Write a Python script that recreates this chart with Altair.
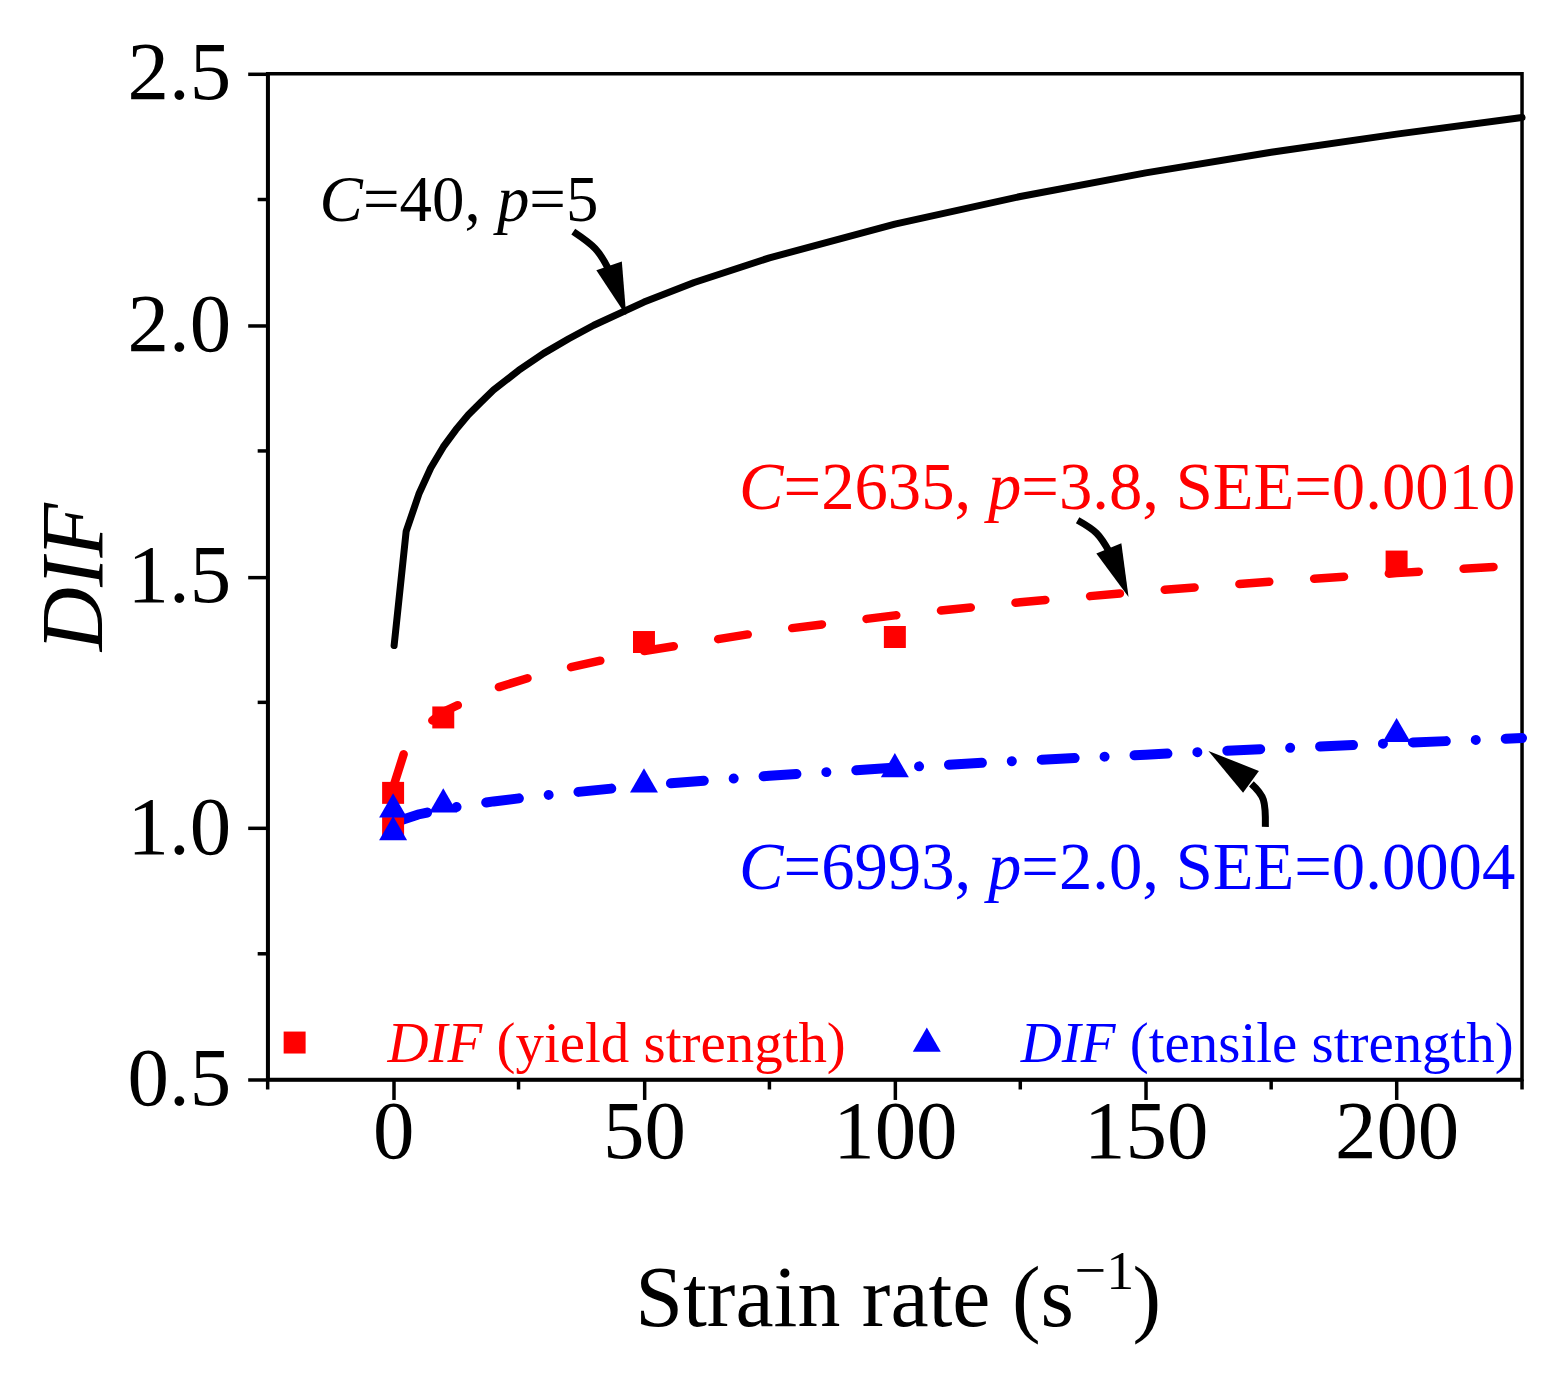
import altair as alt
import pandas as pd

# ---------------- data ----------------
# measured DIF points
yield_rate = [0, 0, 10, 50, 100, 200]
yield_dif = [1.00, 1.07, 1.22, 1.37, 1.38, 1.53]
tensile_rate = [0, 0, 10, 50, 100, 200]
tensile_dif = [1.00, 1.045, 1.055, 1.095, 1.125, 1.195]

# reference curve C=40, p=5 (black solid)
ref_rate = [0.2, 2.6, 5.2, 7.5, 10, 12.5, 15, 17.5, 20, 25, 30, 35, 40, 50, 60, 75, 100, 125, 150, 175, 200, 225]
ref_dif = [1.363, 1.59, 1.666, 1.716, 1.758, 1.792, 1.822, 1.847, 1.871, 1.910, 1.944, 1.973, 2.000, 2.046,
           2.085, 2.134, 2.201, 2.256, 2.303, 2.344, 2.380, 2.413]

# fitted yield curve (red dashed)
yfit_rate = [0.3, 2.2, 5, 10, 20, 30, 50, 75, 100, 125, 150, 175, 200, 225]
yfit_dif = [1.090, 1.150, 1.192, 1.231, 1.277, 1.308, 1.352, 1.392, 1.423, 1.449, 1.471, 1.490, 1.507, 1.523]

# fitted tensile curve (blue dash-dot)
tfit_rate = [0.5, 5, 10, 20, 30, 50, 75, 100, 125, 150, 175, 200, 225]
tfit_dif = [1.012, 1.027, 1.038, 1.053, 1.065, 1.085, 1.104, 1.120, 1.134, 1.146, 1.158, 1.169, 1.179]

x_major = [0, 50, 100, 150, 200]
x_minor = [-25, 25, 75, 125, 175, 225]
y_major = [0.5, 1.0, 1.5, 2.0, 2.5]
y_minor = [0.75, 1.25, 1.75, 2.25]

# ---------------- geometry ----------------
X0, X1 = -25, 225
Y0, Y1 = 0.5, 2.5
W, H = 1256, 1007
PL, PT = 260, 65          # padding -> plot origin at page (268, 73)
OX, OY = PL + 8, PT + 8
FONT = "Liberation Serif"


def to_x(px):
    return X0 + (px - OX) / W * (X1 - X0)


def to_y(py):
    return Y1 - (py - OY) / H * (Y1 - Y0)


REG = {' ': 250, '(': 333, ')': 333, ',': 250, '.': 250, '=': 564, '\u2212': 564, 'S': 556, 'E': 611,
       'a': 444, 'd': 500, 'e': 444, 'g': 500, 'h': 500, 'i': 278, 'l': 278, 'n': 500, 'r': 333,
       's': 389, 't': 278, 'y': 500}
for _d in '0123456789':
    REG[_d] = 500
ITA = {'C': 667, 'D': 722, 'I': 333, 'F': 611, 'p': 500}


def layout(parts, x_px, base_px, size, color):
    rows = []
    for txt, it in parts:
        lead = len(txt) - len(txt.lstrip(' '))
        x_px += lead * REG[' '] * size / 1000.0
        body = txt.lstrip(' ')
        rows.append({'x': to_x(x_px), 'y': to_y(base_px), 'txt': body, 'it': it, 'c': color, 'fs': size})
        x_px += sum((ITA if it else REG)[ch] for ch in body) * size / 1000.0
    return rows


RED = "#FF0000"
BLUE = "#0000FF"

rows = []
rows += layout([("C", 1), ("=40,", 0), (" p", 1), ("=5", 0)], 320, 220, 65, "black")
rows += layout([("C", 1), ("=2635,", 0), (" p", 1), ("=3.8, SEE=0.0010", 0)], 740, 509, 66.8, RED)
rows += layout([("C", 1), ("=6993,", 0), (" p", 1), ("=2.0, SEE=0.0004", 0)], 740, 889, 66.8, BLUE)
rows += layout([("DIF", 1), (" (yield strength)", 0)], 388, 1062, 57, RED)
rows += layout([("DIF", 1), (" (tensile strength)", 0)], 1022, 1062, 57, BLUE)
text_df = pd.DataFrame(rows)

# arrows (pixel readings -> data units)
shaft_px = [
    (0, 0, 574, 231), (0, 1, 596, 248), (0, 2, 609, 268),
    (1, 0, 1079, 520), (1, 1, 1098, 533), (1, 2, 1111, 552),
    (2, 0, 1267, 827), (2, 1, 1265, 800), (2, 2, 1253, 784),
]
shaft_df = pd.DataFrame([{'id': a, 'i': i, 'x': to_x(px), 'y': to_y(py)} for a, i, px, py in shaft_px])
head_px = [(627, 315, 341), (1130, 597, 338), (1210, 751, 126)]
head_df = pd.DataFrame([{'x': to_x(px), 'y': to_y(py), 'ang': a} for px, py, a in head_px])
HEAD = "M0,0 L-1,-3.9 L1,-3.9 Z"

legend_sq = pd.DataFrame({'x': [to_x(295)], 'y': [to_y(1043)]})
legend_tr = pd.DataFrame({'x': [to_x(928)], 'y': [to_y(1040)]})

# ---------------- encodings ----------------
xs = alt.Scale(domain=[X0, X1], nice=False, zero=False)
ys = alt.Scale(domain=[Y0, Y1], nice=False, zero=False)
common_axis = dict(grid=False, title=None, tickSize=20, tickWidth=3.5, tickColor='black',
                   domainWidth=3.5, domainColor='black', labelFont=FONT, labelFontSize=83,
                   labelColor='black', labelFlush=False, labelOverlap=False)
xaxis = alt.Axis(values=x_major, labelPadding=-8, **common_axis)
yaxis = alt.Axis(values=y_major, format='.1f', labelPadding=17, **common_axis)


def X(f):
    return alt.X(f, type='quantitative', scale=xs, axis=xaxis)


def Y(f):
    return alt.Y(f, type='quantitative', scale=ys, axis=yaxis)


ref_line = alt.Chart(pd.DataFrame({'r': ref_rate, 'd': ref_dif})).mark_line(
    color='black', strokeWidth=7, strokeJoin='round', strokeCap='round').encode(x=X('r'), y=Y('d'))
yfit_line = alt.Chart(pd.DataFrame({'r': yfit_rate, 'd': yfit_dif})).mark_line(
    color=RED, strokeWidth=8.5, strokeCap='round', strokeDash=[30, 45]).encode(x=X('r'), y=Y('d'))
tfit_line = alt.Chart(pd.DataFrame({'r': tfit_rate, 'd': tfit_dif})).mark_line(
    color=BLUE, strokeWidth=10, strokeCap='round', strokeDash=[33, 30, 0.01, 30]).encode(x=X('r'), y=Y('d'))

yield_pts = alt.Chart(pd.DataFrame({'r': yield_rate, 'd': yield_dif})).mark_point(
    shape='square', filled=True, color=RED, size=484, opacity=1, strokeWidth=0).encode(x=X('r'), y=Y('d'))
tensile_pts = alt.Chart(pd.DataFrame({'r': tensile_rate, 'd': tensile_dif})).mark_point(
    shape='triangle-up', filled=True, color=BLUE, size=784, opacity=1, strokeWidth=0).encode(x=X('r'), y=Y('d'))

leg_sq = alt.Chart(legend_sq).mark_point(
    shape='square', filled=True, color=RED, size=484, opacity=1, strokeWidth=0).encode(x=X('x'), y=Y('y'))
leg_tr = alt.Chart(legend_tr).mark_point(
    shape='triangle-up', filled=True, color=BLUE, size=784, opacity=1, strokeWidth=0).encode(x=X('x'), y=Y('y'))

shafts = alt.Chart(shaft_df).mark_line(color='black', strokeWidth=7, interpolate='cardinal').encode(
    x=X('x'), y=Y('y'), detail='id:N', order='i:Q')
heads = alt.Chart(head_df).mark_point(shape=HEAD, filled=True, color='black', opacity=1,
                                      strokeWidth=0, size=729).encode(
    x=X('x'), y=Y('y'), angle=alt.Angle('ang:Q', scale=None))


def text_layer(df, style):
    return alt.Chart(df).mark_text(font=FONT, fontStyle=style, align='left', baseline='alphabetic').encode(
        x=X('x'), y=Y('y'), text='txt:N',
        color=alt.Color('c:N', scale=None), size=alt.Size('fs:Q', scale=None))


txt_it = text_layer(text_df[text_df.it == 1], 'italic')
txt_rg = text_layer(text_df[text_df.it == 0], 'normal')

xminor = alt.Chart(pd.DataFrame({'v': x_minor})).mark_rule(color='black', strokeWidth=3.5).encode(
    x=X('v'), y=alt.value(H), y2=alt.value(H + 10))
yminor = alt.Chart(pd.DataFrame({'v': y_minor})).mark_rule(color='black', strokeWidth=3.5).encode(
    y=Y('v'), x=alt.value(-10), x2=alt.value(0))

# axis titles (custom so the superscript can be drawn)
xt_main = alt.Chart(pd.DataFrame({'t': ['Strain rate (s']})).mark_text(
    font=FONT, fontSize=86, align='left', baseline='alphabetic', color='black').encode(
    text='t:N', x=alt.value(636 - OX), y=alt.value(1327 - OY))
xt_sup = alt.Chart(pd.DataFrame({'t': ['\u22121']})).mark_text(
    font=FONT, fontSize=56, align='left', baseline='alphabetic', color='black').encode(
    text='t:N', x=alt.value(1076 - OX), y=alt.value(1290 - OY))
xt_close = alt.Chart(pd.DataFrame({'t': [')']})).mark_text(
    font=FONT, fontSize=86, align='left', baseline='alphabetic', color='black').encode(
    text='t:N', x=alt.value(1134 - OX), y=alt.value(1327 - OY))
yt = alt.Chart(pd.DataFrame({'t': ['DIF']})).mark_text(
    font=FONT, fontSize=89, fontStyle='italic', align='center', baseline='alphabetic',
    angle=270, color='black').encode(
    text='t:N', x=alt.value(102 - OX), y=alt.value(577 - OY))

chart = alt.layer(
    ref_line, yfit_line, tfit_line, yield_pts, tensile_pts, leg_sq, leg_tr,
    shafts, heads, txt_it, txt_rg, xminor, yminor, xt_main, xt_sup, xt_close, yt
).properties(
    width=W, height=H,
    autosize=alt.AutoSizeParams(type='none'),
    padding={'left': PL, 'top': PT, 'right': 30, 'bottom': 290},
).configure_view(stroke='black', strokeWidth=3.5)

chart.save("out.html", embed_options={"renderer": "svg", "actions": False})
